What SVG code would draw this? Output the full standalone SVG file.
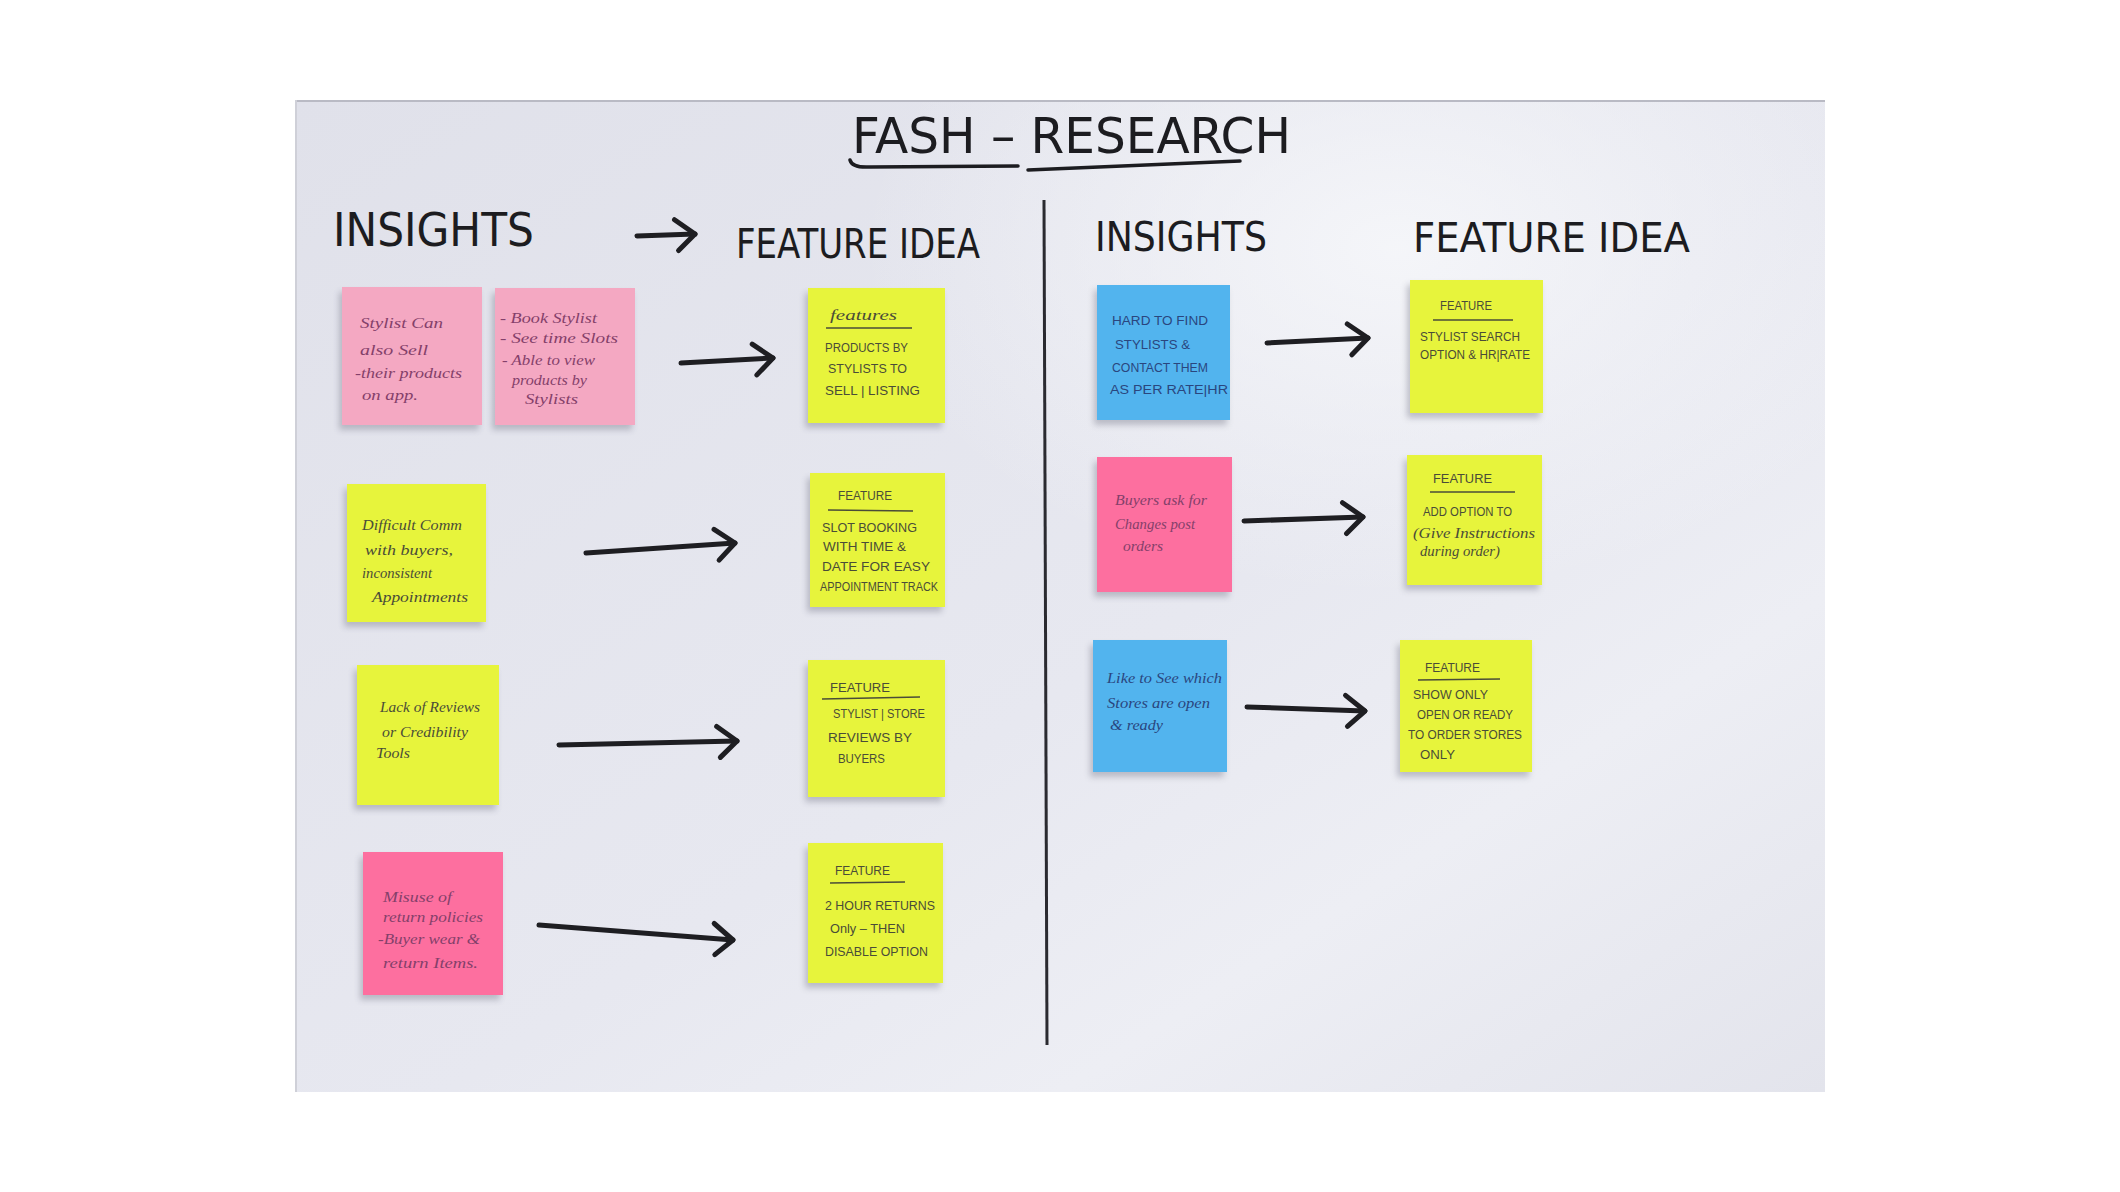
<svg xmlns="http://www.w3.org/2000/svg" width="2120" height="1192" viewBox="0 0 2120 1192">
<defs>
<linearGradient id="board" x1="0" y1="0" x2="1" y2="1">
<stop offset="0" stop-color="#e0e1ea"/>
<stop offset="0.55" stop-color="#e7e8f0"/>
<stop offset="0.75" stop-color="#edeef4"/>
<stop offset="1" stop-color="#e3e4ec"/>
</linearGradient>
<radialGradient id="glare" cx="0.72" cy="0.15" r="0.35">
<stop offset="0" stop-color="#f6f7fa" stop-opacity="0.9"/>
<stop offset="1" stop-color="#f6f7fa" stop-opacity="0"/>
</radialGradient>
<filter id="blur" x="-20%" y="-20%" width="140%" height="140%"><feGaussianBlur stdDeviation="3"/></filter>
<marker id="head" markerUnits="userSpaceOnUse" markerWidth="40" markerHeight="40" viewBox="-30 -20 36 40" refX="0" refY="0" orient="auto">
<path d="M -20 -15 L 0 0 L -17 16" fill="none" stroke="#1e1e22" stroke-width="5" stroke-linecap="round" stroke-linejoin="round"/>
</marker>
</defs>
<style>
.shadow{fill:#7f8090;opacity:0.45;filter:url(#blur)}
.yellow{fill:#e7f43c}
.pinkL{fill:#f4a8c2}
.pinkH{fill:#fd6f9f}
.blue{fill:#52b4ee}
.head{font-family:"DejaVu Sans Condensed","Liberation Sans Narrow","Liberation Sans",sans-serif;fill:#1c1c20;font-weight:normal}
.hw{font-family:"Liberation Serif","DejaVu Serif",serif;font-style:italic;font-size:14px}
.cap{font-family:"Liberation Sans","DejaVu Sans",sans-serif;font-size:12px}
.inkY{fill:#4a4c38}
.inkP{fill:#84406a}
.inkB{fill:#2a467e}
.ul{stroke:#4a4c38;stroke-width:1.3;fill:none}
.conn path{fill:none;stroke:#1e1e22;stroke-width:5;stroke-linecap:round;marker-end:url(#head)}
</style>
<rect x="0" y="0" width="2120" height="1192" fill="#ffffff"/>
<g id="board">
<rect x="295" y="100" width="1530" height="992" fill="url(#board)"/>
<rect x="295" y="100" width="1530" height="992" fill="url(#glare)"/>
<line x1="295" y1="101" x2="1825" y2="101" stroke="#b9bac4" stroke-width="2"/>
<line x1="296" y1="100" x2="296" y2="1092" stroke="#cfd0d8" stroke-width="2"/>
</g>
<g id="title">
<text class="head" x="852" y="153" font-size="50" textLength="439" lengthAdjust="spacingAndGlyphs">FASH – RESEARCH</text>
<path d="M 850 160 Q 852 168 870 167 L 1018 166" fill="none" stroke="#1c1c20" stroke-width="3.5" stroke-linecap="round"/>
<path d="M 1028 170 L 1240 161" fill="none" stroke="#1c1c20" stroke-width="3.5" stroke-linecap="round"/>
</g>
<g id="headings">
<text class="head" x="333" y="246" font-size="46" textLength="201" lengthAdjust="spacingAndGlyphs">INSIGHTS</text>
<text class="head" x="736" y="258" font-size="40" textLength="244" lengthAdjust="spacingAndGlyphs">FEATURE IDEA</text>
<text class="head" x="1095" y="251" font-size="40" textLength="172" lengthAdjust="spacingAndGlyphs">INSIGHTS</text>
<text class="head" x="1413" y="252" font-size="40" textLength="277" lengthAdjust="spacingAndGlyphs">FEATURE IDEA</text>
</g>
<line id="divider" x1="1044" y1="200" x2="1047" y2="1045" stroke="#2a2a30" stroke-width="3"/>
<g id="connectors" class="conn">
<path d="M 637 236 L 695 234"/>
<path d="M 681 363 L 773 358"/>
<path d="M 586 553 L 735 543"/>
<path d="M 559 745 L 737 741"/>
<path d="M 539 925 L 733 940"/>
<path d="M 1267 343 L 1368 338"/>
<path d="M 1244 521 L 1363 517"/>
<path d="M 1247 707 L 1365 711"/>
</g>
<g id="note-l1a">
<rect class="shadow" x="339" y="292" width="140" height="138"/>
<rect class="pinkL" x="342" y="287" width="140" height="138"/>
<g class="hw inkP">
<text x="360" y="328" textLength="83" lengthAdjust="spacingAndGlyphs">Stylist Can</text>
<text x="360" y="355" textLength="68" lengthAdjust="spacingAndGlyphs">also Sell</text>
<text x="355" y="378" textLength="107" lengthAdjust="spacingAndGlyphs">-their products</text>
<text x="362" y="400" textLength="56" lengthAdjust="spacingAndGlyphs">on app.</text>
</g>
</g>
<g id="note-l1b">
<rect class="shadow" x="492" y="293" width="140" height="137"/>
<rect class="pinkL" x="495" y="288" width="140" height="137"/>
<g class="hw inkP">
<text x="500" y="323" textLength="97" lengthAdjust="spacingAndGlyphs">- Book Stylist</text>
<text x="500" y="343" textLength="118" lengthAdjust="spacingAndGlyphs">- See time Slots</text>
<text x="502" y="365" textLength="93" lengthAdjust="spacingAndGlyphs">- Able to view</text>
<text x="512" y="385" textLength="75" lengthAdjust="spacingAndGlyphs">products by</text>
<text x="525" y="404" textLength="53" lengthAdjust="spacingAndGlyphs">Stylists</text>
</g>
</g>
<g id="note-f1">
<rect class="shadow" x="805" y="293" width="137" height="135"/>
<rect class="yellow" x="808" y="288" width="137" height="135"/>
<g class="inkY">
<text class="hw" x="830" y="320" textLength="67" lengthAdjust="spacingAndGlyphs">features</text>
<line class="ul" x1="826" y1="328" x2="912" y2="328"/>
<text class="cap" x="825" y="352" textLength="83" lengthAdjust="spacingAndGlyphs">PRODUCTS BY</text>
<text class="cap" x="828" y="373" textLength="79" lengthAdjust="spacingAndGlyphs">STYLISTS TO</text>
<text class="cap" x="825" y="395" textLength="95" lengthAdjust="spacingAndGlyphs">SELL | LISTING</text>
</g>
</g>
<g id="note-l2">
<rect class="shadow" x="344" y="489" width="139" height="138"/>
<rect class="yellow" x="347" y="484" width="139" height="138"/>
<g class="hw inkY">
<text x="362" y="530" textLength="100" lengthAdjust="spacingAndGlyphs">Difficult Comm</text>
<text x="365" y="555" textLength="88" lengthAdjust="spacingAndGlyphs">with buyers,</text>
<text x="362" y="578" textLength="70" lengthAdjust="spacingAndGlyphs">inconsistent</text>
<text x="372" y="602" textLength="96" lengthAdjust="spacingAndGlyphs">Appointments</text>
</g>
</g>
<g id="note-f2">
<rect class="shadow" x="807" y="478" width="135" height="134"/>
<rect class="yellow" x="810" y="473" width="135" height="134"/>
<g class="inkY">
<text class="cap" x="838" y="500" textLength="54" lengthAdjust="spacingAndGlyphs">FEATURE</text>
<line class="ul" x1="828" y1="510" x2="913" y2="511"/>
<text class="cap" x="822" y="532" textLength="95" lengthAdjust="spacingAndGlyphs">SLOT BOOKING</text>
<text class="cap" x="823" y="551" textLength="83" lengthAdjust="spacingAndGlyphs">WITH TIME &amp;</text>
<text class="cap" x="822" y="571" textLength="108" lengthAdjust="spacingAndGlyphs">DATE FOR EASY</text>
<text class="cap" x="820" y="591" textLength="118" lengthAdjust="spacingAndGlyphs">APPOINTMENT TRACK</text>
</g>
</g>
<g id="note-l3">
<rect class="shadow" x="354" y="670" width="142" height="140"/>
<rect class="yellow" x="357" y="665" width="142" height="140"/>
<g class="hw inkY">
<text x="380" y="712" textLength="100" lengthAdjust="spacingAndGlyphs">Lack of Reviews</text>
<text x="382" y="737" textLength="86" lengthAdjust="spacingAndGlyphs">or Credibility</text>
<text x="376" y="758" textLength="34" lengthAdjust="spacingAndGlyphs">Tools</text>
</g>
</g>
<g id="note-f3">
<rect class="shadow" x="805" y="665" width="137" height="137"/>
<rect class="yellow" x="808" y="660" width="137" height="137"/>
<g class="inkY">
<text class="cap" x="830" y="692" textLength="60" lengthAdjust="spacingAndGlyphs">FEATURE</text>
<line class="ul" x1="822" y1="699" x2="920" y2="697"/>
<text class="cap" x="833" y="718" textLength="92" lengthAdjust="spacingAndGlyphs">STYLIST | STORE</text>
<text class="cap" x="828" y="742" textLength="84" lengthAdjust="spacingAndGlyphs">REVIEWS BY</text>
<text class="cap" x="838" y="763" textLength="47" lengthAdjust="spacingAndGlyphs">BUYERS</text>
</g>
</g>
<g id="note-l4">
<rect class="shadow" x="360" y="857" width="140" height="143"/>
<rect class="pinkH" x="363" y="852" width="140" height="143"/>
<g class="hw inkP">
<text x="383" y="902" textLength="69" lengthAdjust="spacingAndGlyphs">Misuse of</text>
<text x="383" y="922" textLength="100" lengthAdjust="spacingAndGlyphs">return policies</text>
<text x="378" y="944" textLength="102" lengthAdjust="spacingAndGlyphs">-Buyer wear &amp;</text>
<text x="383" y="968" textLength="95" lengthAdjust="spacingAndGlyphs">return Items.</text>
</g>
</g>
<g id="note-f4">
<rect class="shadow" x="805" y="848" width="135" height="140"/>
<rect class="yellow" x="808" y="843" width="135" height="140"/>
<g class="inkY">
<text class="cap" x="835" y="875" textLength="55" lengthAdjust="spacingAndGlyphs">FEATURE</text>
<line class="ul" x1="830" y1="883" x2="905" y2="882"/>
<text class="cap" x="825" y="910" textLength="110" lengthAdjust="spacingAndGlyphs">2 HOUR RETURNS</text>
<text class="cap" x="830" y="933" textLength="75" lengthAdjust="spacingAndGlyphs">Only – THEN</text>
<text class="cap" x="825" y="956" textLength="103" lengthAdjust="spacingAndGlyphs">DISABLE OPTION</text>
</g>
</g>
<g id="note-r1">
<rect class="shadow" x="1094" y="290" width="133" height="135"/>
<rect class="blue" x="1097" y="285" width="133" height="135"/>
<g class="cap inkB">
<text x="1112" y="325" textLength="96" lengthAdjust="spacingAndGlyphs">HARD TO FIND</text>
<text x="1115" y="349" textLength="75" lengthAdjust="spacingAndGlyphs">STYLISTS &amp;</text>
<text x="1112" y="372" textLength="96" lengthAdjust="spacingAndGlyphs">CONTACT THEM</text>
<text x="1110" y="394" textLength="118" lengthAdjust="spacingAndGlyphs">AS PER RATE|HR</text>
</g>
</g>
<g id="note-rf1">
<rect class="shadow" x="1407" y="285" width="133" height="133"/>
<rect class="yellow" x="1410" y="280" width="133" height="133"/>
<g class="inkY">
<text class="cap" x="1440" y="310" textLength="52" lengthAdjust="spacingAndGlyphs">FEATURE</text>
<line class="ul" x1="1433" y1="320" x2="1513" y2="320"/>
<text class="cap" x="1420" y="341" textLength="100" lengthAdjust="spacingAndGlyphs">STYLIST SEARCH</text>
<text class="cap" x="1420" y="359" textLength="110" lengthAdjust="spacingAndGlyphs">OPTION &amp; HR|RATE</text>
</g>
</g>
<g id="note-r2">
<rect class="shadow" x="1094" y="462" width="135" height="135"/>
<rect class="pinkH" x="1097" y="457" width="135" height="135"/>
<g class="hw inkP">
<text x="1115" y="505" textLength="92" lengthAdjust="spacingAndGlyphs">Buyers ask for</text>
<text x="1115" y="529" textLength="80" lengthAdjust="spacingAndGlyphs">Changes post</text>
<text x="1123" y="551" textLength="40" lengthAdjust="spacingAndGlyphs">orders</text>
</g>
</g>
<g id="note-rf2">
<rect class="shadow" x="1404" y="460" width="135" height="130"/>
<rect class="yellow" x="1407" y="455" width="135" height="130"/>
<g class="inkY">
<text class="cap" x="1433" y="483" textLength="59" lengthAdjust="spacingAndGlyphs">FEATURE</text>
<line class="ul" x1="1430" y1="492" x2="1515" y2="492"/>
<text class="cap" x="1423" y="516" textLength="89" lengthAdjust="spacingAndGlyphs">ADD OPTION TO</text>
<text class="hw" x="1413" y="538" textLength="122" lengthAdjust="spacingAndGlyphs">(Give Instructions</text>
<text class="hw" x="1420" y="556" textLength="80" lengthAdjust="spacingAndGlyphs">during order)</text>
</g>
</g>
<g id="note-r3">
<rect class="shadow" x="1090" y="645" width="134" height="132"/>
<rect class="blue" x="1093" y="640" width="134" height="132"/>
<g class="hw inkB">
<text x="1107" y="683" textLength="115" lengthAdjust="spacingAndGlyphs">Like to See which</text>
<text x="1107" y="708" textLength="103" lengthAdjust="spacingAndGlyphs">Stores are open</text>
<text x="1110" y="730" textLength="53" lengthAdjust="spacingAndGlyphs">&amp; ready</text>
</g>
</g>
<g id="note-rf3">
<rect class="shadow" x="1397" y="645" width="132" height="132"/>
<rect class="yellow" x="1400" y="640" width="132" height="132"/>
<g class="inkY">
<text class="cap" x="1425" y="672" textLength="55" lengthAdjust="spacingAndGlyphs">FEATURE</text>
<line class="ul" x1="1418" y1="680" x2="1500" y2="679"/>
<text class="cap" x="1413" y="699" textLength="75" lengthAdjust="spacingAndGlyphs">SHOW ONLY</text>
<text class="cap" x="1417" y="719" textLength="96" lengthAdjust="spacingAndGlyphs">OPEN OR READY</text>
<text class="cap" x="1408" y="739" textLength="114" lengthAdjust="spacingAndGlyphs">TO ORDER STORES</text>
<text class="cap" x="1420" y="759" textLength="35" lengthAdjust="spacingAndGlyphs">ONLY</text>
</g>
</g>
</svg>
